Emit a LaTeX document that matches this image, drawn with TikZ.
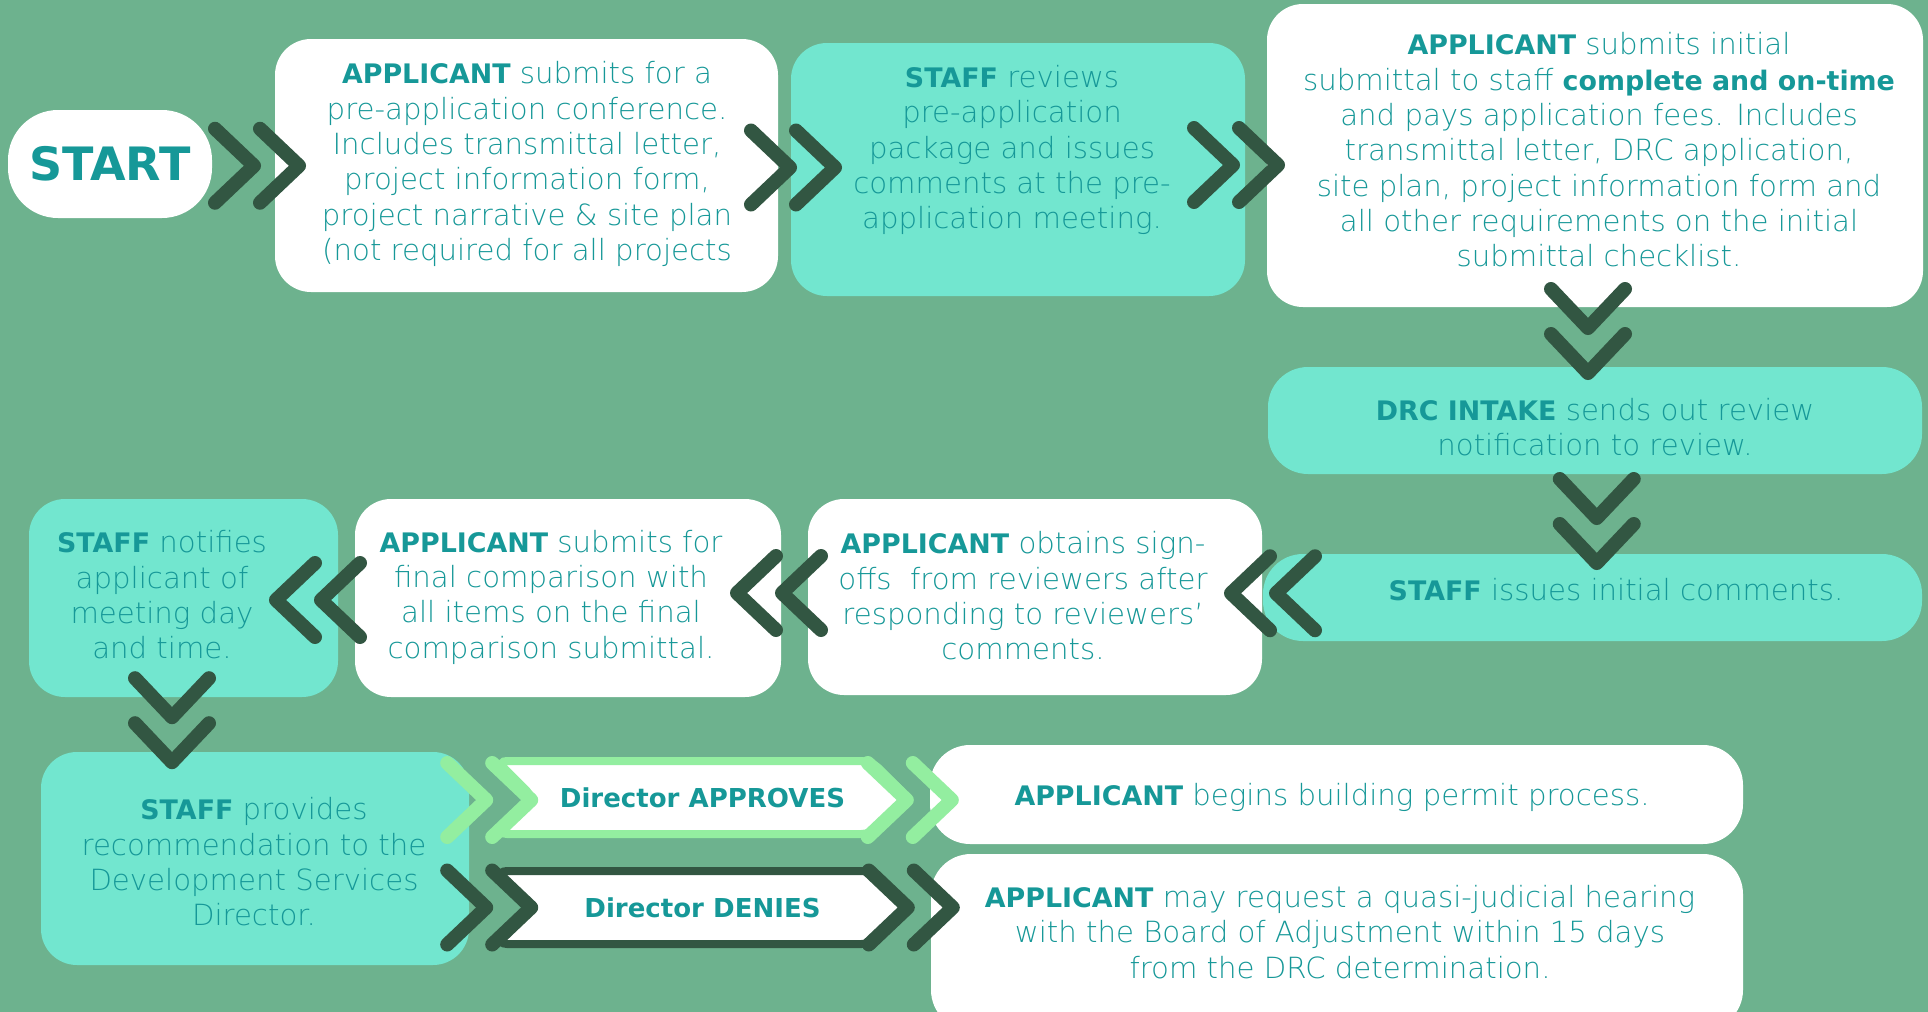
\documentclass[tikz,border=0pt]{standalone}
\usepackage{fontspec}
\setmainfont{DejaVu Sans ExtraLight}[BoldFont={DejaVu Sans Bold}, BoldFeatures={Scale=0.92}]
\usetikzlibrary{calc,shapes.symbols}

\definecolor{bggreen}{RGB}{109,178,142}
\definecolor{aqua}{RGB}{114,230,207}
\definecolor{tealtext}{RGB}{22,152,152}
\definecolor{darkchev}{RGB}{50,86,66}
\definecolor{lightchev}{RGB}{147,238,160}

\tikzset{
  box/.style={rectangle, rounded corners=36, inner sep=0},
  wbox/.style={box, fill=white},
  abox/.style={box, fill=aqua},
  txt/.style={align=center, text=tealtext, inner sep=0,
    font=\fontsize{29.2}{35.3}\selectfont},
  chev/.style={draw=darkchev, line width=14, line cap=round, line join=round},
  lightpair/.style={chev/.append style={draw=lightchev}},
  dirbox/.style={signal, signal to=east, signal from=west, signal pointer angle=90,
    fill=white, line width=8, rounded corners=10, minimum width=411,
    minimum height=73, inner sep=0, text=tealtext,
    font=\fontsize{28.3}{32}\selectfont\bfseries},
  fwdpair/.pic={\foreach \dx in {-42,3}
    \draw[chev] (\dx,-37) -- (\dx+39,0) -- (\dx,37);},
  backpair/.pic={\foreach \dx in {-42,3}
    \draw[chev] (\dx+39,-37) -- (\dx,0) -- (\dx+39,37);},
  downpair/.pic={\foreach \dy in {-42,3}
    \draw[chev] (-37,\dy) -- (0,\dy+39) -- (37,\dy);},
}

\begin{document}
\begin{tikzpicture}[x=1pt, y=-1pt]
  \useasboundingbox (0,0) rectangle (1928,1012);
  \clip (0,0) rectangle (1928,1012);
  \fill[bggreen] (0,0) rectangle (1928,1012);

  % first row
  \node[wbox, rounded corners=50, minimum width=204, minimum height=108] (start) at (110,164) {};
  \node[txt, font=\fontsize{50}{55}\selectfont\bfseries] (startt) at (110,164) {START};
  \node[wbox, minimum width=503, minimum height=253] (app1) at (526.5,165.5) {};
  \node[txt] (app1t) at (527,164) {\textbf{APPLICANT} submits for a\\pre-application conference.\\Includes transmittal letter,\\project information form,\\project narrative \& site plan\\(not required for all projects};
  \node[abox, minimum width=454, minimum height=253] (rev1) at (1018,169.5) {};
  \node[txt] (rev1t) at (1012,150) {\textbf{STAFF} reviews\\pre-application\\package and issues\\comments at the pre-\\application meeting.};
  \node[wbox, minimum width=656, minimum height=303] (app2) at (1595,155.5) {};
  \node[txt] (app2t) at (1599,150) {\textbf{APPLICANT} submits initial\\submittal to staff \textbf{complete and on-time}\\and pays application fees. Includes\\transmittal letter, DRC application,\\site plan, project information form and\\all other requirements on the initial\\submittal checklist.};

  % right column
  \node[abox, rounded corners=40, minimum width=654, minimum height=107] (drc) at (1595,420.5) {};
  \node[txt] (drct) at (1595,427) {\textbf{DRC INTAKE} sends out review\\notification to review.};
  \node[abox, rounded corners=40, minimum width=659, minimum height=87] (iss) at (1592.5,597.5) {};
  \node[txt] (isst) at (1616,590) {\textbf{STAFF} issues initial comments.};

  % second row
  \node[wbox, minimum width=454, minimum height=196] (obtain) at (1035,597) {};
  \node[txt] (obtaint) at (1023,596) {\textbf{APPLICANT} obtains sign-\\offs\ \ from reviewers after\\responding to reviewers'\\comments.};
  \node[wbox, minimum width=426, minimum height=198] (final) at (568,598) {};
  \node[txt] (finalt) at (551,597) {\textbf{APPLICANT} submits for\\final comparison with\\all items on the final\\comparison submittal.};
  \node[abox, minimum width=309, minimum height=198] (notif) at (183.5,598) {};
  \node[txt] (notift) at (162,595) {\textbf{STAFF} notifies\\applicant of\\meeting day\\and time.};

  % third row
  \node[abox, minimum width=428, minimum height=213] (prov) at (255,858.5) {};
  \node[txt] (provt) at (254,862) {\textbf{STAFF} provides\\recommendation to the\\Development Services\\Director.};
  \node[dirbox, draw=lightchev] (appr) at (702.5,797.5) {Director APPROVES};
  \node[dirbox, draw=darkchev] (deny) at (702.5,907.5) {Director DENIES};
  \node[wbox, rounded corners=40, minimum width=813, minimum height=99] (begin) at (1336.5,794.5) {};
  \node[txt] (begint) at (1332,797) {\textbf{APPLICANT} begins building permit process.};
  \node[wbox, rounded corners=40, minimum width=812, minimum height=176] (hear) at (1337,942) {};
  \node[txt] (heart) at (1340,932) {\textbf{APPLICANT} may request a quasi-judicial hearing\\with the Board of Adjustment within 15 days\\from the DRC determination.};

  % chevrons
  \pic at ($(start.east)!.5!(app1.west)+(13.5,1)$) {fwdpair};
  \pic at ($(app1.east)!.5!(rev1.west)+(8.5,0)$) {fwdpair};
  \pic at ($(rev1.east)!.5!(app2.west)+(-20,2.5)$) {fwdpair};
  \pic at ($(app2.south)!.5!(drc.north)+(-7,-6)$) {downpair};
  \pic at ($(drc.south)!.5!(iss.north)+(3,7)$) {downpair};
  \pic at ($(obtain.east)!.5!(iss.west)+(10.5,-4)$) {backpair};
  \pic at ($(final.east)!.5!(obtain.west)+(-15.5,-4.5)$) {backpair};
  \pic at ($(notif.east)!.5!(final.west)+(-28.5,2)$) {backpair};
  \pic at ($(notif.south)+(-11.5,23)$) {downpair};
  \pic[lightpair] at ($(prov.east |- appr.center)+(20,2.5)$) {fwdpair};
  \pic[lightpair] at ($(begin.west |- appr.center)+(-20,2.5)$) {fwdpair};
  \pic at ($(prov.east |- deny.center)+(20,0)$) {fwdpair};
  \pic at ($(hear.west |- deny.center)+(-20,0)$) {fwdpair};
\end{tikzpicture}
\end{document}
